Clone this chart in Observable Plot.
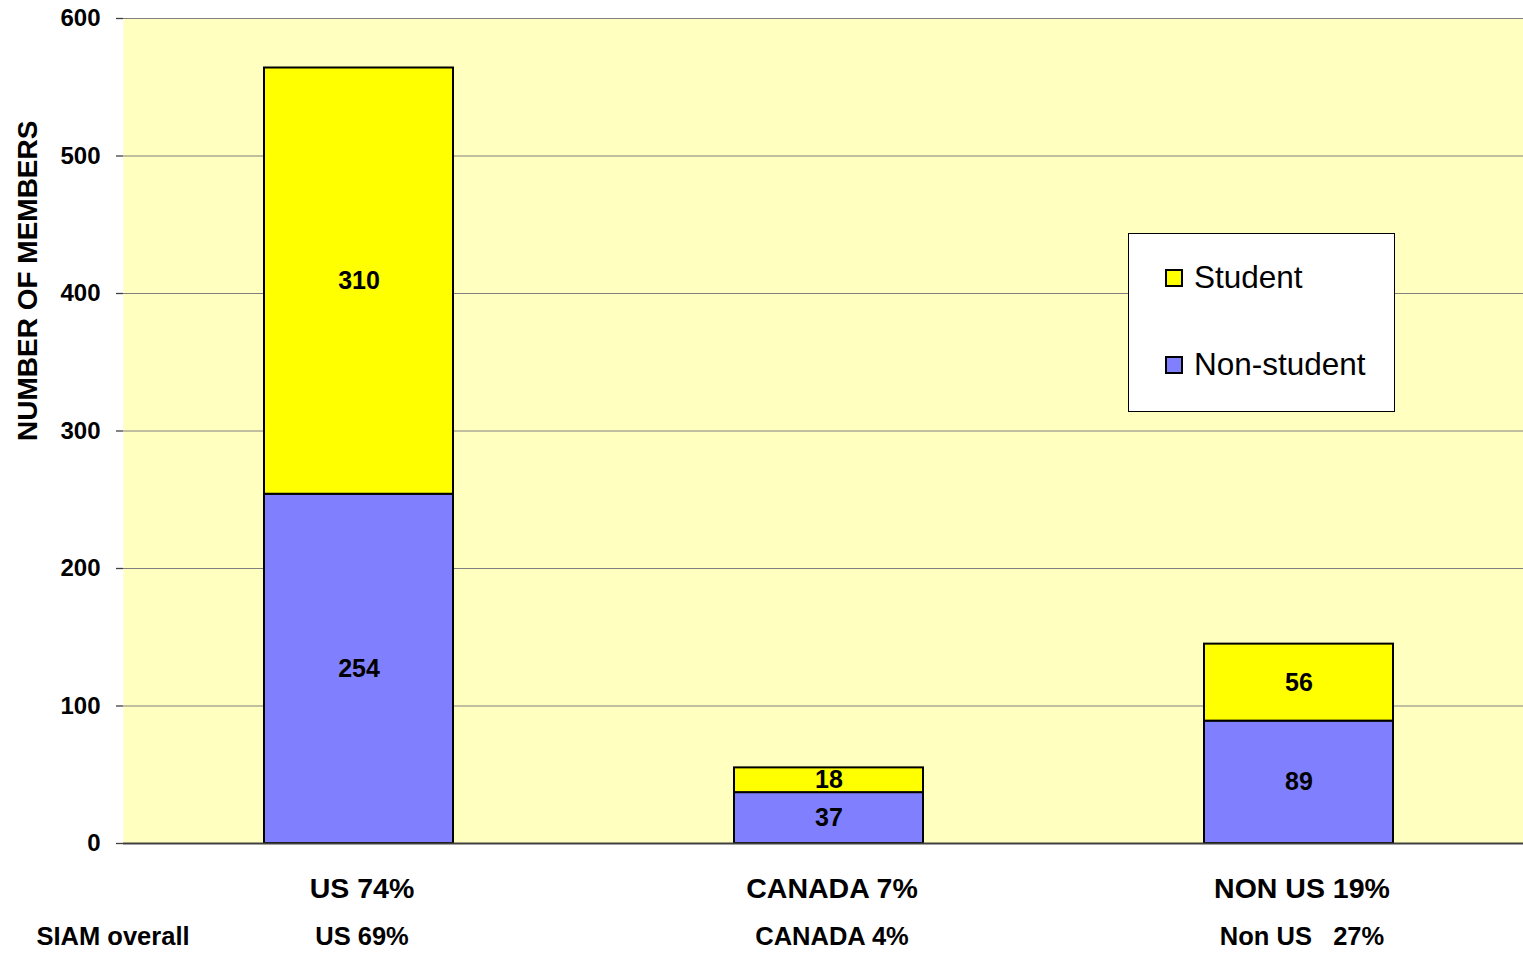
<!DOCTYPE html>
<html>
<head>
<meta charset="utf-8">
<script src="https://cdn.jsdelivr.net/npm/d3@7"></script>
<script src="https://cdn.jsdelivr.net/npm/@observablehq/plot@0.6"></script>
<style>
  html, body { margin: 0; padding: 0; background: #fff; overflow: hidden; }
  body { font-family: "Liberation Sans", Arial, sans-serif; }
  #wrap { position: relative; width: 1523px; height: 953px; overflow: hidden; }
  #chart { width: 1533px; }
  #chart svg { max-width: none !important; }
  #ylabel { position: absolute; left: 14px; top: 441px; transform: rotate(-90deg); transform-origin: 0 0;
    white-space: nowrap; font-weight: bold; font-size: 28px; line-height: 28px; }
  #legend { position: absolute; left: 1128px; top: 233px; width: 265px; height: 177px; background: #fff;
    border: 1px solid #000; }
  .item { position: absolute; left: 36px; font-size: 31.5px; display: flex; align-items: center; }
  .sw { display: inline-block; width: 18px; height: 18px; border: 2px solid #000; margin-right: 11px; box-sizing: border-box; }
</style>
</head>
<body>
<div id="wrap">
  <div id="chart"></div>
  <div id="ylabel">NUMBER OF MEMBERS</div>
  <div id="legend"></div>
</div>
<script>
const regions = ["US", "CANADA", "NON US"];
const regionLabels = ["US 74%", "CANADA 7%", "NON US 19%"];
const overallLabels = ["US 69%", "CANADA 4%", "Non US   27%"];
const types = ["Non-student", "Student"];
const nonStudent = [254, 37, 89];
const student = [310, 18, 56];
const colors = ["#8080FF", "#FFFF00"];
const yTicks = [0, 100, 200, 300, 400, 500, 600];

const data = [];
regions.forEach((r, i) => {
  data.push({region: r, type: "Non-student", value: nonStudent[i]});
  data.push({region: r, type: "Student", value: student[i]});
});
const labelRows = regions.map((r, i) => ({region: r, top: regionLabels[i], bottom: overallLabels[i]}));

const W = 1533, ML = 123;
const chart = Plot.plot({
  width: W,
  height: 953,
  marginLeft: ML,
  marginRight: 0,
  marginTop: 18,
  marginBottom: 110,
  style: {fontFamily: "'Liberation Sans', Arial, sans-serif", background: "transparent", maxWidth: "none"},
  x: {domain: regions, paddingInner: 0.598, paddingOuter: 0.299, axis: null},
  y: {domain: [0, 600]},
  color: {domain: types, range: colors},
  marks: [
    Plot.frame({fill: "#FFFFC0", stroke: null}),
    Plot.gridY(yTicks, {stroke: "#808080", strokeOpacity: 1, strokeWidth: 1}),
    Plot.axisY(yTicks, {tickSize: 7, tickPadding: 16, fontSize: 24, fontWeight: "bold", stroke: "#404040", strokeWidth: 1.3, label: null, fill: "#000"}),
    Plot.ruleX([null], {dx: -(W - ML) / 2, stroke: "#404040", strokeWidth: 1.5}),
    Plot.barY(data, {x: "region", y: "value", fill: "type", stroke: "#000", strokeWidth: 2}),
    Plot.ruleY([0], {stroke: "#404040", strokeWidth: 2}),
    Plot.text(data, Plot.stackY({x: "region", y: "value", text: "value", fontSize: 25, fontWeight: "bold", fill: "#000"})),
    Plot.text(labelRows, {x: "region", text: "top", frameAnchor: "bottom", dy: 54, dx: 3, fontSize: 28.5, fontWeight: "bold", fill: "#000"}),
    Plot.text(labelRows, {x: "region", text: "bottom", frameAnchor: "bottom", dy: 101, dx: 3, fontSize: 25.5, fontWeight: "bold", fill: "#000"}),
    Plot.text(["SIAM overall"], {frameAnchor: "bottom-left", text: d => d, textAnchor: "start", dx: -87, dy: 101, fontSize: 25.5, fontWeight: "bold", fill: "#000"})
  ]
});
document.getElementById("chart").appendChild(chart);

const legend = document.getElementById("legend");
[["Student", colors[1], 25], ["Non-student", colors[0], 112]].forEach(([name, c, top]) => {
  const it = document.createElement("div");
  it.className = "item";
  it.style.top = top + "px";
  it.innerHTML = `<span class="sw" style="background:${c}"></span><span>${name}</span>`;
  legend.appendChild(it);
});
</script>
</body>
</html>
